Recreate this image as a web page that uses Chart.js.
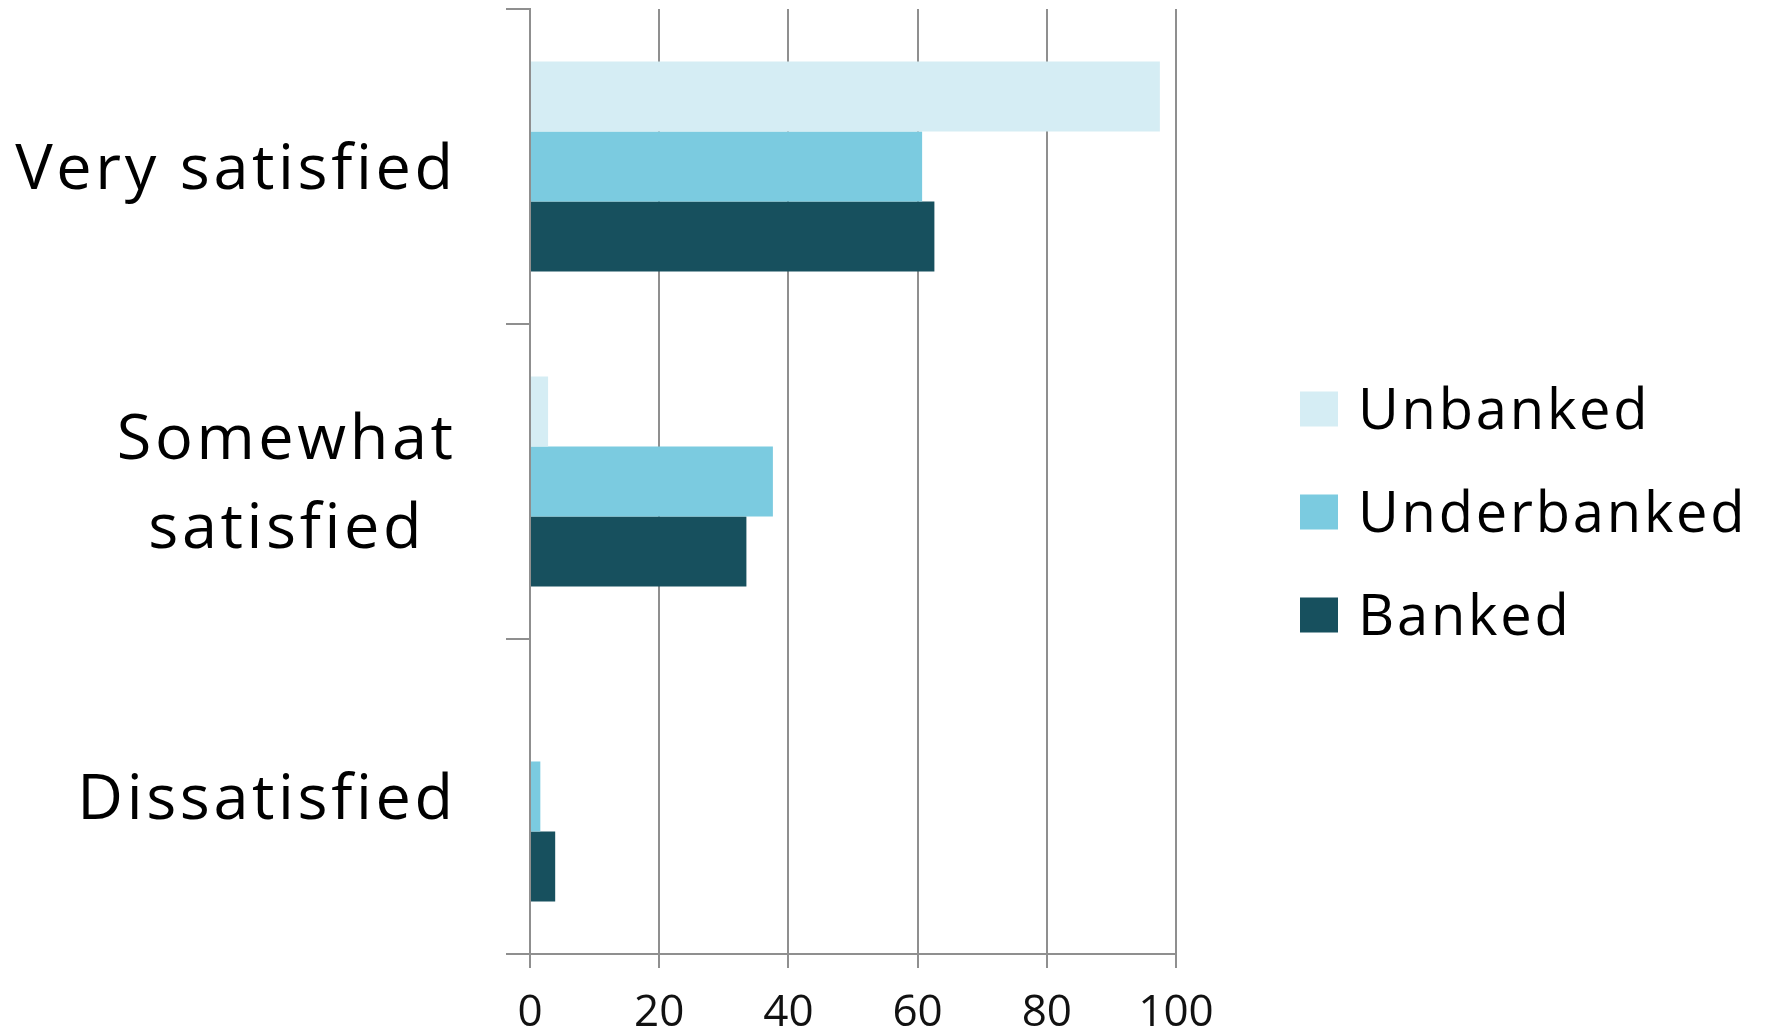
<!DOCTYPE html>
<html>
<head>
<meta charset="utf-8">
<title>Satisfaction by banking status</title>
<script src="https://cdn.jsdelivr.net/npm/chart.js@4/dist/chart.umd.min.js"></script>
<style>
  html, body { margin: 0; padding: 0; background: #ffffff; overflow: hidden; }
  #wrap { width: 1769px; height: 1030px; position: relative; }
</style>
</head>
<body>
<div id="wrap"><canvas id="chart"></canvas></div>
<script>
// Survey categories (multi-line labels as arrays)
const categories = [['Very satisfied'], ['Somewhat', 'satisfied'], ['Dissatisfied']];
const seriesNames = ['Unbanked', 'Underbanked', 'Banked'];

// Percent of respondents in each group
const unbanked    = [97.5, 2.8, 0];
const underbanked = [60.7, 37.6, 1.6];
const banked      = [62.6, 33.5, 3.9];

const xTicks = [0, 20, 40, 60, 80, 100];

const seriesColors = ['#d5edf4', '#7bcbe0', '#17505e'];
const gridColor = '#8f8f8f';
const FONT = '"Open Sans", "Noto Sans", sans-serif';

// Category labels: block right-aligned next to the axis, lines centred within the block
const categoryLabels = {
  id: 'categoryLabels',
  afterDraw(chart, args, opts) {
    const { ctx } = chart;
    const yScale = chart.scales.y;
    const right = yScale.right - opts.gap;
    ctx.save();
    ctx.font = `400 ${opts.size}px ${FONT}`;
    if ('letterSpacing' in ctx) ctx.letterSpacing = opts.spacing + 'px';
    ctx.fillStyle = '#000000';
    ctx.textAlign = 'left';
    ctx.textBaseline = 'alphabetic';
    chart.data.labels.forEach((lines, i) => {
      const cy = yScale.getPixelForTick(i);
      const widths = lines.map(l => ctx.measureText(l).width - opts.spacing);
      const block = Math.max(...widths);
      const capHalf = opts.size * 0.357;
      lines.forEach((line, j) => {
        const x = right - block / 2 - widths[j] / 2;
        const y = cy + capHalf + (j - (lines.length - 1) / 2) * opts.lineHeight;
        ctx.fillText(line, x, y);
      });
    });
    ctx.restore();
  }
};

// Legend drawn to the right of the plot
const sideLegend = {
  id: 'sideLegend',
  afterDraw(chart, args, opts) {
    const { ctx } = chart;
    ctx.save();
    ctx.font = `400 ${opts.size}px ${FONT}`;
    if ('letterSpacing' in ctx) ctx.letterSpacing = opts.spacing + 'px';
    ctx.textAlign = 'left';
    ctx.textBaseline = 'alphabetic';
    const n = chart.data.datasets.length;
    chart.data.datasets.forEach((ds, i) => {
      const cy = opts.centerY + (i - (n - 1) / 2) * opts.rowGap;
      ctx.fillStyle = ds.backgroundColor;
      ctx.fillRect(opts.x, cy - opts.boxH / 2, opts.boxW, opts.boxH);
      ctx.fillStyle = '#000000';
      ctx.fillText(ds.label, opts.textX, cy + opts.size * 0.357);
    });
    ctx.restore();
  }
};

new Chart(document.getElementById('chart'), {
  type: 'bar',
  data: {
    labels: categories,
    datasets: [
      { label: seriesNames[0], data: unbanked,    backgroundColor: seriesColors[0] },
      { label: seriesNames[1], data: underbanked, backgroundColor: seriesColors[1] },
      { label: seriesNames[2], data: banked,      backgroundColor: seriesColors[2] }
    ]
  },
  options: {
    indexAxis: 'y',
    responsive: true,
    maintainAspectRatio: false,
    animation: false,
    devicePixelRatio: 1,
    layout: { padding: { top: 9, right: 593, bottom: 0, left: 0 } },
    datasets: { bar: { categoryPercentage: 0.667, barPercentage: 1.0, borderWidth: 0 } },
    scales: {
      x: {
        min: 0,
        max: 100,
        afterBuildTicks(scale) { scale.ticks = xTicks.map(v => ({ value: v })); },
        afterFit(scale) { scale.height = 76; },
        grid: { color: gridColor, lineWidth: 2, tickLength: 14, drawTicks: true },
        border: { display: true, color: gridColor, width: 2 },
        ticks: {
          color: '#111111',
          padding: 23,
          maxRotation: 0,
          font: { family: FONT, size: 44, lineHeight: 1 }
        }
      },
      y: {
        afterFit(scale) { scale.width = 530; },
        grid: { drawOnChartArea: false, drawTicks: true, tickLength: 24, color: gridColor, lineWidth: 2, offset: true },
        border: { display: true, color: gridColor, width: 2 },
        ticks: { display: false }
      }
    },
    plugins: {
      legend: { display: false },
      tooltip: { enabled: false },
      categoryLabels: { size: 63, spacing: 3.6, gap: 77, lineHeight: 89 },
      sideLegend: { size: 56, spacing: 2.8, x: 1300, boxW: 38, boxH: 35, textX: 1358, centerY: 512, rowGap: 103 }
    }
  },
  plugins: [categoryLabels, sideLegend]
});
</script>
</body>
</html>
